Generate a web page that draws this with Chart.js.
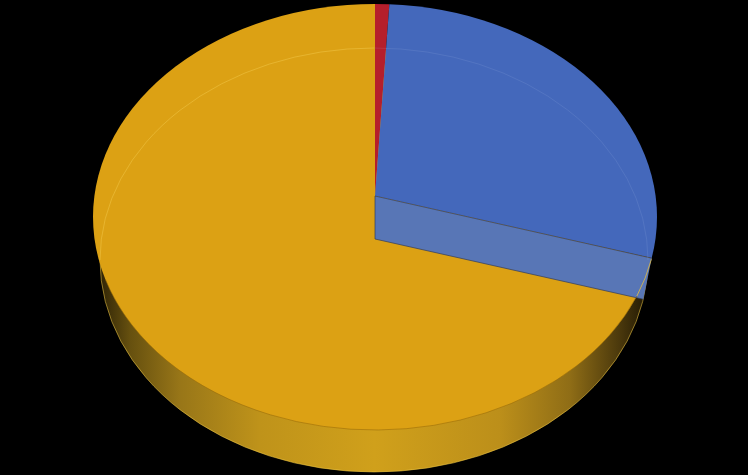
<!DOCTYPE html>
<html>
<head>
<meta charset="utf-8">
<title>Pie</title>
<script src="https://cdn.jsdelivr.net/npm/chart.js@4/dist/chart.umd.min.js"></script>
<style>
  html, body { margin: 0; padding: 0; background: #000; }
  canvas { display: block; }
</style>
</head>
<body>
<canvas id="myChart" width="748" height="475"></canvas>
<script>
const categories = ["Red", "Blue", "Orange"];
const shares = [0.9, 28.7, 70.4];
const sliceColors = ["#b51f2b", "#4468bb", "#dca114"];

// the tilted disc
const topDisc = { x: 375, y: 217, rx: 282, ry: 213 };
const lowDisc = { x: 374, y: 260, rx: 274, ry: 212 };
const apexTop = { x: 375, y: 196 };
const apexLow = { x: 375, y: 239 };

function hitEllipse(o, dx, dy, e) {
  const ox = (o.x - e.x) / e.rx, oy = (o.y - e.y) / e.ry;
  const ax = dx / e.rx, ay = dy / e.ry;
  const a = ax * ax + ay * ay, b = 2 * (ox * ax + oy * ay), c = ox * ox + oy * oy - 1;
  const t = (-b + Math.sqrt(b * b - 4 * a * c)) / (2 * a);
  return { x: o.x + dx * t, y: o.y + dy * t };
}

function ellipsePath(ctx, e, from, to) {
  ctx.beginPath();
  ctx.ellipse(e.x, e.y, e.rx, e.ry, 0, from, to);
}

const tiltedPie = {
  id: 'tiltedPie',
  beforeDatasetsDraw(chart) {
    const ctx = chart.ctx;
    const arcs = chart.getDatasetMeta(0).data;
    const r = arcs[0].outerRadius;
    const sx = topDisc.rx * 1.25 / r, sy = topDisc.ry * 1.25 / r;

    // outer wall
    const wall = ctx.createLinearGradient(97, 0, 650, 0);
    [[97, '#2a2006'], [130, '#66500f'], [180, '#987618'], [260, '#bf931a'], [375, '#d0a01b'],
     [500, '#bc8f1a'], [570, '#8f6d16'], [620, '#4a380c'], [650, '#1c1504']].forEach(s => {
      wall.addColorStop((s[0] - 97) / 553, s[1]);
    });
    ctx.save();
    ctx.fillStyle = wall;
    ellipsePath(ctx, lowDisc, 0, Math.PI * 2);
    ctx.fill();
    ctx.strokeStyle = 'rgba(240,200,70,0.55)';
    ctx.lineWidth = 1;
    ellipsePath(ctx, lowDisc, 0, Math.PI);
    ctx.stroke();
    ctx.restore();

    // top face, slices come from the library's arc elements
    ctx.save();
    ellipsePath(ctx, topDisc, 0, Math.PI * 2);
    ctx.clip();
    ctx.translate(apexTop.x, apexTop.y);
    ctx.scale(sx, sy);
    ctx.translate(-arcs[0].x, -arcs[0].y);
    arcs.forEach(a => a.draw(ctx));
    ctx.restore();

    // inner wall of the blue slice
    const end = arcs[1].endAngle;
    const dx = Math.cos(end) * sx, dy = Math.sin(end) * sy;
    const p1 = hitEllipse(apexTop, dx, dy, topDisc);
    const p2 = hitEllipse(apexLow, dx, dy, lowDisc);
    ctx.save();
    ctx.fillStyle = '#5876b6';
    ctx.beginPath();
    ctx.moveTo(apexTop.x, apexTop.y);
    ctx.lineTo(p1.x, p1.y);
    ctx.lineTo(p2.x, p2.y);
    ctx.lineTo(apexLow.x, apexLow.y);
    ctx.closePath();
    ctx.fill();
    ctx.strokeStyle = 'rgba(50,60,90,0.7)';
    ctx.lineWidth = 1;
    ctx.beginPath();
    ctx.moveTo(apexTop.x, apexTop.y);
    ctx.lineTo(p1.x, p1.y);
    ctx.moveTo(apexLow.x, apexLow.y);
    ctx.lineTo(p2.x, p2.y);
    ctx.moveTo(apexTop.x, apexTop.y);
    ctx.lineTo(apexLow.x, apexLow.y);
    ctx.stroke();
    ctx.restore();

    // faint rims
    ctx.save();
    ctx.lineWidth = 1;
    ctx.strokeStyle = 'rgba(255,225,110,0.3)';
    ellipsePath(ctx, lowDisc, Math.PI, Math.PI * 1.5);
    ctx.stroke();
    ctx.strokeStyle = 'rgba(190,205,240,0.12)';
    ellipsePath(ctx, lowDisc, Math.PI * 1.5, Math.PI * 2);
    ctx.stroke();
    ctx.strokeStyle = 'rgba(150,105,10,0.55)';
    ellipsePath(ctx, topDisc, 0.38, Math.PI - 0.3);
    ctx.stroke();
    ctx.strokeStyle = 'rgba(245,200,50,0.7)';
    ellipsePath(ctx, topDisc, 0.2, 0.38);
    ctx.stroke();
    ctx.restore();
    return false;
  }
};

new Chart(document.getElementById("myChart"), {
  type: 'pie',
  data: {
    labels: categories,
    datasets: [{
      data: shares,
      backgroundColor: sliceColors,
      borderWidth: 0
    }]
  },
  options: {
    responsive: false,
    animation: false,
    plugins: {
      legend: { display: false },
      tooltip: { enabled: false }
    }
  },
  plugins: [tiltedPie]
});
</script>
</body>
</html>
